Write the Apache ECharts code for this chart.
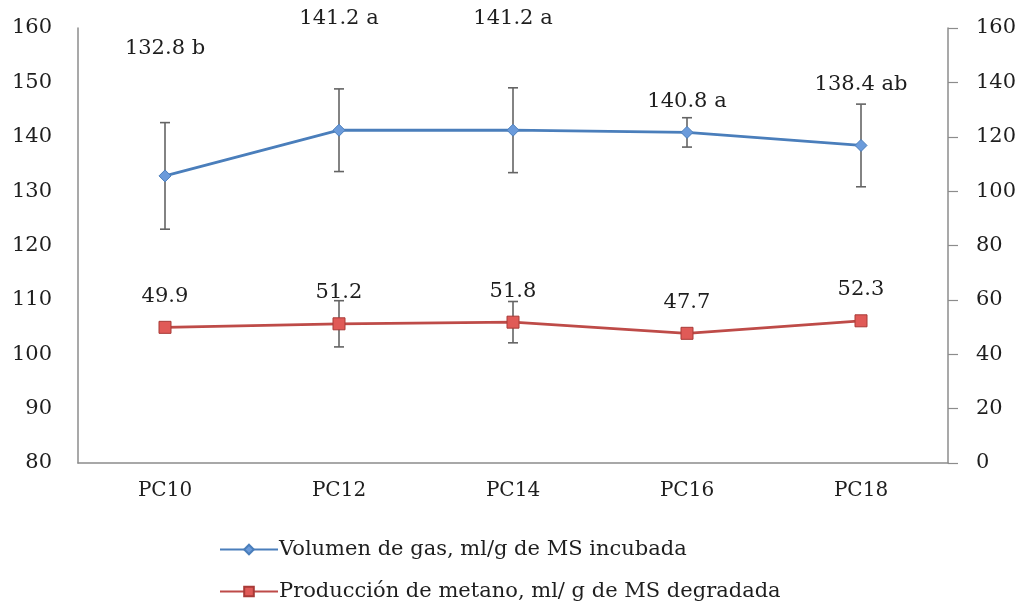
<!DOCTYPE html>
<html>
<head>
<meta charset="utf-8">
<script src="https://cdn.jsdelivr.net/npm/echarts@6/dist/echarts.min.js"></script>
<style>
html,body{margin:0;padding:0;background:#fff;}
#chart{width:1023px;height:612px;}
</style>
</head>
<body>
<div id="chart"></div>
<script>
// ---- data ----
const categories = ['PC10', 'PC12', 'PC14', 'PC16', 'PC18'];
const gasVolume = [132.8, 141.2, 141.2, 140.8, 138.4];
const gasLetters = ['b', 'a', 'a', 'a', 'ab'];
const gasError = [9.8, 7.6, 7.8, 2.7, 7.6];
const methane = [49.9, 51.2, 51.8, 47.7, 52.3];
const methaneError = [0, 8.5, 7.6, 0, 0];
const leftTicks = [80, 160, 10];   // min, max, interval
const rightTicks = [0, 160, 20];
const seriesNames = ['Volumen de gas, ml/g de MS incubada', 'Producción de metano, ml/ g de MS degradada'];

// ---- style (label lifts in px, not data) ----
const gasLabelLift = [-105, -90, -90, -9, -39];

const FONT = 'DejaVu Serif';
const TXT = '#1e1e1e';
const AXIS = '#8c8c8c';
const BLUE = '#4a7ebb';
const RED = '#be4b48';

function errorSeries(values, errs, yAxisIndex) {
  return {
    type: 'custom',
    yAxisIndex: yAxisIndex,
    z: 1,
    silent: true,
    data: values.map((v, i) => [i, v - errs[i], v + errs[i]]),
    renderItem: function (params, api) {
      const x = api.value(0);
      const lo = api.coord([x, api.value(1)]);
      const hi = api.coord([x, api.value(2)]);
      const w = 5;
      const st = { stroke: '#646464', lineWidth: 1.6 };
      return {
        type: 'group',
        children: [
          { type: 'line', shape: { x1: lo[0], y1: lo[1], x2: hi[0], y2: hi[1] }, style: st },
          { type: 'line', shape: { x1: hi[0] - w, y1: hi[1], x2: hi[0] + w, y2: hi[1] }, style: st },
          { type: 'line', shape: { x1: lo[0] - w, y1: lo[1], x2: lo[0] + w, y2: lo[1] }, style: st }
        ]
      };
    }
  };
}

const chart = echarts.init(document.getElementById('chart'), null, { renderer: 'canvas' });
chart.setOption({
  animation: false,
  backgroundColor: '#fff',
  textStyle: { fontFamily: FONT, color: TXT },
  grid: { left: 78, right: 75, top: 28, bottom: 149 },
  legend: {
    orient: 'vertical',
    left: 214,
    top: 534,
    itemGap: 21,
    itemWidth: 58,
    itemHeight: 12,
    textStyle: { fontFamily: FONT, fontSize: 21, color: TXT, padding: [0, 0, 0, -4] },
    data: seriesNames
  },
  xAxis: {
    type: 'category',
    data: categories,
    boundaryGap: true,
    axisLine: { lineStyle: { color: AXIS, width: 1.5 } },
    axisTick: { show: false },
    axisLabel: { fontFamily: FONT, fontSize: 20, color: TXT, margin: 18 }
  },
  yAxis: [
    {
      type: 'value',
      min: leftTicks[0], max: leftTicks[1], interval: leftTicks[2],
      axisLine: { show: true, lineStyle: { color: AXIS, width: 1.5 } },
      axisTick: { show: false },
      splitLine: { show: false },
      axisLabel: { fontFamily: FONT, fontSize: 21, color: TXT, margin: 26 }
    },
    {
      type: 'value',
      position: 'right',
      min: rightTicks[0], max: rightTicks[1], interval: rightTicks[2],
      axisLine: { show: true, lineStyle: { color: AXIS, width: 1.5 } },
      axisTick: { show: true, length: 10, lineStyle: { color: AXIS, width: 1.2 } },
      splitLine: { show: false },
      axisLabel: { fontFamily: FONT, fontSize: 21, color: TXT, margin: 28, align: 'left' }
    }
  ],
  series: [
    errorSeries(gasVolume, gasError, 0),
    errorSeries(methane, methaneError, 1),
    {
      name: seriesNames[0],
      type: 'line',
      yAxisIndex: 0,
      z: 3,
      symbol: 'diamond',
      symbolSize: 12,
      lineStyle: { color: BLUE, width: 2.8 },
      itemStyle: { color: '#6b9bdb', borderColor: BLUE, borderWidth: 1 },
      data: gasVolume.map((v, i) => ({
        value: v,
        label: {
          show: true,
          position: 'top',
          distance: 5,
          offset: [0, gasLabelLift[i]],
          formatter: v.toFixed(1) + ' ' + gasLetters[i],
          fontFamily: FONT, fontSize: 21, color: TXT
        }
      }))
    },
    {
      name: seriesNames[1],
      type: 'line',
      yAxisIndex: 1,
      z: 3,
      symbol: 'rect',
      symbolSize: 12,
      lineStyle: { color: RED, width: 2.8 },
      itemStyle: { color: '#e05a57', borderColor: '#a83a37', borderWidth: 1 },
      label: {
        show: true,
        position: 'top',
        distance: 14,
        formatter: p => p.value.toFixed(1),
        fontFamily: FONT, fontSize: 21, color: TXT
      },
      data: methane
    }
  ]
});
</script>
</body>
</html>
